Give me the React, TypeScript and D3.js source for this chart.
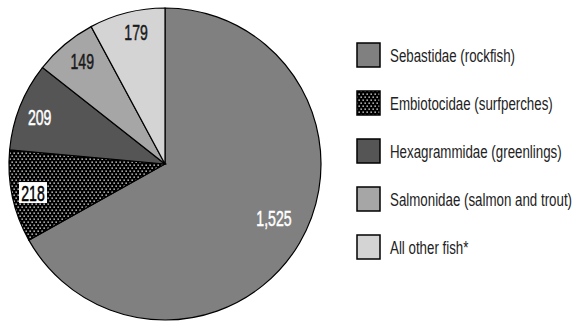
import React from "react";
import * as d3 from "d3";

const categories = [
  "Sebastidae (rockfish)",
  "Embiotocidae (surfperches)",
  "Hexagrammidae (greenlings)",
  "Salmonidae (salmon and trout)",
  "All other fish*",
];
const values = [1525, 218, 209, 149, 179];
const fills = ["#808080", "url(#dots)", "#555555", "#a6a6a6", "#d4d4d4"];
const labelColors = ["#ffffff", "#000000", "#ffffff", "#1a1a1a", "#1a1a1a"];

const W = 577;
const H = 322;
const cx = 165;
const cy = 164;
const R = 156;
const FONT = "'Liberation Sans', Arial, sans-serif";

export default function App() {
  const pie = d3.pie<number>().sort(null).value((d) => d)(values);
  const arc = d3.arc<d3.PieArcDatum<number>>().innerRadius(0).outerRadius(R);
  const fmt = d3.format(",");
  return (
    <svg width={W} height={H} style={{ position: "absolute", left: 0, top: 0, background: "#fff" }}>
      <defs>
        <pattern id="dots" width={4} height={6} patternUnits="userSpaceOnUse">
          <rect width={4} height={6} fill="#000" />
          <rect x={0.5} y={0.5} width={1.3} height={1.3} fill="#fff" />
          <rect x={2.5} y={3.5} width={1.3} height={1.3} fill="#fff" />
        </pattern>
      </defs>
      <g transform={`translate(${cx},${cy})`}>
        {pie.map((p, i) => (
          <path key={i} d={arc(p) as string} fill={fills[i]} stroke="#000" strokeWidth={1.2} />
        ))}
        {pie.map((p, i) => {
          const lr = R * (i === 0 ? 0.78 : 0.865);
          const la = d3.arc<d3.PieArcDatum<number>>().innerRadius(lr).outerRadius(lr);
          const [x, y] = la.centroid(p);
          const txt = fmt(values[i]);
          const dx = i === 0 || i >= 3 ? 4 : 0;
          const dy = i === 0 ? -7 : i === 2 ? 3 : i === 4 ? -1 : 1;
          return (
            <g key={i} transform={`translate(${x + dx},${y + dy})`}>
              {i === 1 && <rect x={-14} y={-11} width={28} height={21} fill="#fff" />}
              <text
                transform="scale(0.64,1)"
                textAnchor="middle"
                dominantBaseline="central"
                fontFamily={FONT}
                fontSize={22}
                fill={labelColors[i]}
                stroke={labelColors[i]}
                strokeWidth={0.5}
              >
                {txt}
              </text>
            </g>
          );
        })}
      </g>
      {categories.map((c, i) => {
        const y = 55 + i * 48;
        return (
          <g key={c}>
            <rect x={357} y={y - 12} width={23} height={24} fill={fills[i]} stroke="#000" strokeWidth={1.5} />
            <text
              transform={`translate(390,${y}) scale(0.72,1)`}
              dominantBaseline="central"
              fontFamily={FONT}
              fontSize={18.5}
              fill="#222"
            >
              {c}
            </text>
          </g>
        );
      })}
    </svg>
  );
}
